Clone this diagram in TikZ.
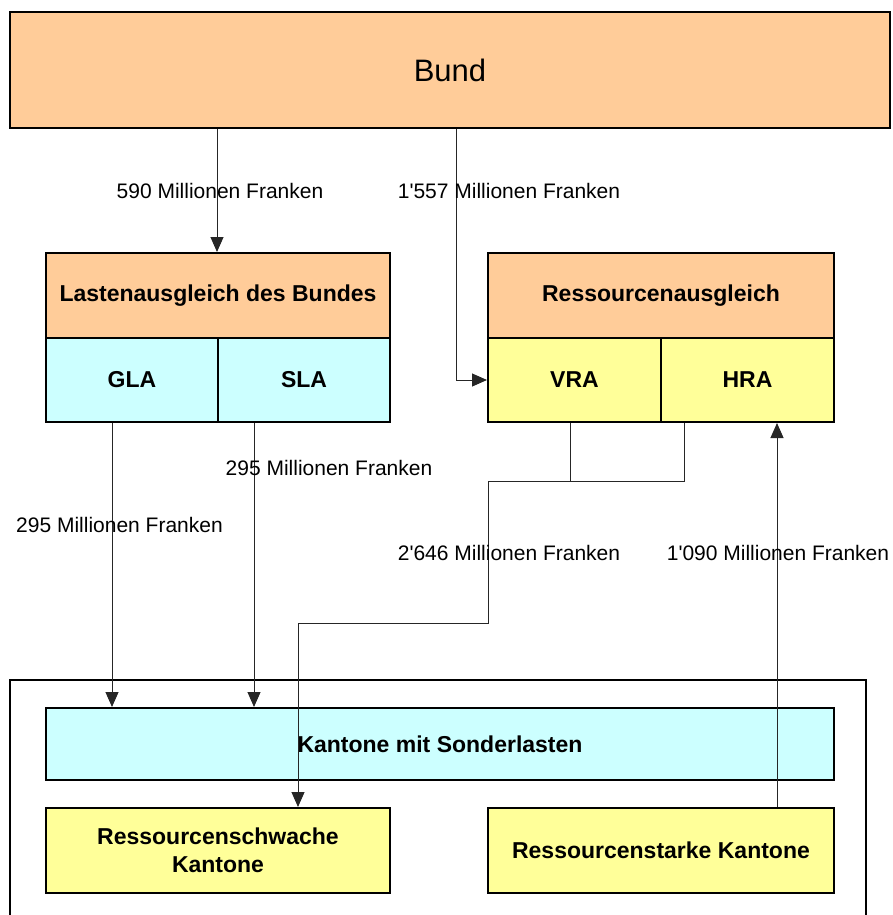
\documentclass[tikz,border=0pt]{standalone}
\usepackage{fontspec}
\setmainfont{Liberation Sans}
\usetikzlibrary{arrows.meta}
\definecolor{peach}{HTML}{FFCC99}
\definecolor{lcyan}{HTML}{CCFFFF}
\definecolor{lyellow}{HTML}{FFFF99}
\tikzset{
  box/.style={draw=black, line width=2pt, rectangle, inner sep=0pt, align=center,
    font=\fontsize{23}{28}\selectfont\bfseries},
  conn/.style={draw=black!85, line width=1pt},
  arr/.style={conn, -{Triangle[length=15pt,width=13pt]}},
  lbl/.style={font=\fontsize{21}{25}\selectfont, inner sep=0pt}
}
\begin{document}
\begin{tikzpicture}[x=1pt,y=-1pt]
\useasboundingbox (0,0) rectangle (892,915);
% outer frame
\draw[line width=2pt] (10,915) -- (10,680) -- (866,680) -- (866,915);
% boxes
\node[box, fill=peach, minimum width=880pt, minimum height=116pt, font=\fontsize{31}{36}\selectfont] (bund) at (450,70) {Bund};
\node[box, fill=peach, minimum width=344pt, minimum height=85pt] (lasten) at (218,295.5) {Lastenausgleich des Bundes};
\node[box, fill=lcyan, minimum width=172pt, minimum height=84pt] (gla) at (132,380) {GLA};
\node[box, fill=lcyan, minimum width=172pt, minimum height=84pt] (sla) at (304,380) {SLA};
\node[box, fill=peach, minimum width=346pt, minimum height=85pt] (ress) at (661,295.5) {Ressourcenausgleich};
\node[box, fill=lyellow, minimum width=173pt, minimum height=84pt] (vra) at (574.5,380) {VRA};
\node[box, fill=lyellow, minimum width=173pt, minimum height=84pt] (hra) at (747.5,380) {HRA};
\node[box, fill=lcyan, minimum width=788pt, minimum height=72pt] (kms) at (440,744) {Kantone mit Sonderlasten};
\node[box, fill=lyellow, minimum width=344pt, minimum height=85pt] (rschw) at (218,850.5) {Ressourcenschwache\\Kantone};
\node[box, fill=lyellow, minimum width=346pt, minimum height=85pt] (rstark) at (661,850.5) {Ressourcenstarke Kantone};
% helper coordinates
\coordinate (xa) at (217,0);
\coordinate (xb) at (456,0);
\coordinate (xg) at (112,0);
\coordinate (xs) at (254,0);
\coordinate (xv) at (570,0);
\coordinate (xh) at (684,0);
\coordinate (xd) at (298,0);
\coordinate (xr) at (777,0);
\coordinate (j1) at (570,481);
\coordinate (j2) at (684,481);
\coordinate (j3) at (488,481);
\coordinate (j4) at (488,623);
\coordinate (j5) at (298,623);
% connectors
\draw[arr] (bund.south -| xa) -- (lasten.north -| xa);
\draw[arr] (bund.south -| xb) |- (vra.west);
\draw[arr] (gla.south -| xg) -- (kms.north -| xg);
\draw[arr] (sla.south -| xs) -- (kms.north -| xs);
\draw[conn] (vra.south -| xv) -- (j1);
\draw[arr] (hra.south -| xh) -- (j2) -- (j3) -- (j4) -- (j5) -- (rschw.north -| xd);
\draw[arr] (rstark.north -| xr) -- (hra.south -| xr);
% labels
\node[lbl] (l1) at (220,191) {590 Millionen Franken};
\node[lbl] (l2) at (509,191) {1\textquotesingle557 Millionen Franken};
\node[lbl] (l3) at (329,468) {295 Millionen Franken};
\node[lbl] (l4) at (119.5,525) {295 Millionen Franken};
\node[lbl] (l5) at (509,553) {2\textquotesingle646 Millionen Franken};
\node[lbl] (l6) at (778,553) {1\textquotesingle090 Millionen Franken};
\end{tikzpicture}
\end{document}
